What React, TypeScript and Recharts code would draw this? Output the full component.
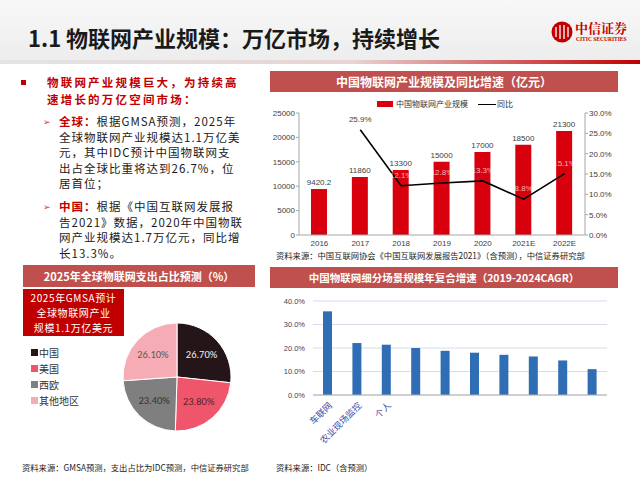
import React from 'react'
import {
  ComposedChart, Bar, Line, XAxis, YAxis, LabelList,
  BarChart, CartesianGrid, PieChart, Pie, Cell,
} from 'recharts'

// 中国物联网产业规模（亿元）及同比
const years = ['2016', '2017', '2018', '2019', '2020', '2021E', '2022E']
const marketSize = [9420.2, 11860, 13300, 15000, 17000, 18500, 21300]
const yoyGrowth = [null, 25.9, 12.1, 12.8, 13.3, 8.8, 15.1]
const sizeTicks = [0, 5000, 10000, 15000, 20000, 25000]
const yoyTicks = [0, 5, 10, 15, 20, 25, 30]

// 2025年全球物联网支出占比
const regions = ['中国', '美国', '西欧', '其他地区']
const regionShare = [26.7, 23.8, 23.4, 26.1]

// 细分场景 CAGR 2019-2024（大部分标签被遮挡，无法辨认）
const segments = ['车联网', '农业现场监控', '个人', '', '', '', '', '', '', '']
const segmentCagr = [35.6, 22.1, 21.4, 20.0, 18.8, 18.0, 17.1, 16.4, 14.7, 11.0]
const cagrTicks = [0, 5, 10, 15, 20, 25, 30, 35, 40]

const RED = '#d9000d'
const BAR_HEAD = '#c0504d'
const pieColors = ['#241618', '#f0566b', '#7f7f7f', '#f6acb5']
const pieLabelColors = ['#eeeeee', '#5b1f28', '#333333', '#595959']

const font = '"Noto Sans CJK SC", "Noto Sans", sans-serif'

const sizeData = years.map((year, i) => ({ year, size: marketSize[i], yoy: yoyGrowth[i] }))
const pieData = regions.map((name, i) => ({ name, value: regionShare[i] }))
const cagrData = segments.map((name, i) => ({ name, cagr: segmentCagr[i] }))

const YoyLabel = (props: any) => {
  const { x, y, value } = props
  if (value == null) return null
  return (
    <text x={x} y={y - 8} textAnchor="middle" fontSize={8} fontFamily="Liberation Sans, Arial"
      fill={value > 20 ? '#404040' : 'rgba(255,255,255,0.7)'}>
      {value.toFixed(1)}%
    </text>
  )
}

const RAD = Math.PI / 180
const PieLabel = (props: any) => {
  const { cx, cy, midAngle, index, value } = props
  const r = 33
  const x = cx + r * Math.cos(-midAngle * RAD)
  const y = cy + r * Math.sin(-midAngle * RAD)
  return (
    <text x={x} y={y} textAnchor="middle" dominantBaseline="central" fontSize={10.5}
      fontFamily="Carlito, Liberation Sans, Arial" fill={pieLabelColors[index]}>
      {value.toFixed(2)}%
    </text>
  )
}

const SlantTick = (props: any) => {
  const { x, y, payload } = props
  return (
    <text x={x + 5} y={y + 9} transform={`rotate(-45, ${x + 5}, ${y + 9})`} textAnchor="end"
      fontSize={9} fontFamily={font} fill="#3d4aa8">
      {payload.value}
    </text>
  )
}

const abs = (left: number, top: number, extra: React.CSSProperties = {}): React.CSSProperties => ({
  position: 'absolute', left, top, ...extra,
})

const HeadBar = ({ left, top, width, height, text, size }: any) => (
  <div style={abs(left, top, {
    width, height, background: BAR_HEAD, color: '#fff', fontWeight: 700, fontSize: size,
    lineHeight: `${height}px`, textAlign: 'center', whiteSpace: 'nowrap',
  })}>{text}</div>
)

const Lines = ({ left, top, lh, size, ls = 0, lines, color = '#1a1a1a', bold = false }: any) => (
  <div style={abs(left, top, { fontSize: size, lineHeight: `${lh}px`, letterSpacing: ls, color, fontWeight: bold ? 700 : 400, whiteSpace: 'nowrap' })}>
    {lines.map((l: any, i: number) => <div key={i}>{l}</div>)}
  </div>
)

export default function App() {
  const hl = (t: string) => <span style={{ color: '#c00000', fontWeight: 700 }}>{t}</span>
  return (
    <div style={{ position: 'absolute', left: 0, top: 0, width: 640, height: 480, background: '#fff', overflow: 'hidden', fontFamily: font }}>
      {/* header */}
      <div style={abs(0, 0, { width: 640, height: 60, background: 'linear-gradient(#f8f8f8, #ededed)' })} />
      <div style={abs(0, 60, { width: 640, height: 4, background: 'linear-gradient(to right, #e4e4e4, #e8d4d4 55%, #c00000)' })} />
      <div style={abs(28, 22, { fontSize: 22, fontWeight: 700, color: '#1a1a1a', lineHeight: '30px', whiteSpace: 'nowrap' })}>
        1.1 物联网产业规模：万亿市场，持续增长
      </div>
      <svg style={abs(551, 21)} width={22} height={22}>
        <circle cx={11} cy={11} r={10.5} fill="#c00000" />
        <path d="M5 6 v10 M9 4 v14 M13 4 v14 M17 6 v10" stroke="#fff" strokeWidth={1.3} />
      </svg>
      <div style={abs(575, 20, { fontSize: 13, fontWeight: 700, color: '#c00000', fontFamily: '"Noto Serif CJK SC", serif', lineHeight: '16px', whiteSpace: 'nowrap' })}>中信证券</div>
      <div style={abs(576, 36, { fontSize: 5.5, fontWeight: 700, color: '#c00000', fontFamily: 'Liberation Serif, serif', whiteSpace: 'nowrap' })}>CITIC SECURITIES</div>

      {/* left text */}
      <div style={abs(21, 80, { width: 5, height: 5, background: '#c00000' })} />
      <Lines left={47} top={74} lh={17} size={11.5} ls={2.2} bold color="#c00000"
        lines={['物联网产业规模巨大，为持续高', '速增长的万亿空间市场：']} />
      <div style={abs(43, 115, { fontSize: 9, color: '#c83c3c' })}>➢</div>
      <Lines left={59} top={114} lh={15.5} size={11.5} ls={1}
        lines={[<>{hl('全球：')}根据GMSA预测，2025年</>, '全球物联网产业规模达1.1万亿美', '元，其中IDC预计中国物联网支', '出占全球比重将达到26.7%，位', '居首位；']} />
      <div style={abs(43, 200, { fontSize: 9, color: '#c83c3c' })}>➢</div>
      <Lines left={59} top={199} lh={15.5} size={11.5} ls={1}
        lines={[<>{hl('中国：')}根据《中国互联网发展报</>, '告2021》数据，2020年中国物联', '网产业规模达1.7万亿元，同比增', '长13.3%。']} />

      {/* top right: market size */}
      <HeadBar left={270} top={71} width={348} height={21} size={12} text="中国物联网产业规模及同比增速（亿元）" />
      <div style={abs(377, 101, { width: 16, height: 6, background: RED })} />
      <div style={abs(396, 98, { fontSize: 8, color: '#333', lineHeight: '12px', whiteSpace: 'nowrap' })}>中国物联网产业规模</div>
      <div style={abs(478, 103.5, { width: 18, height: 1.5, background: '#000' })} />
      <div style={abs(497, 98, { fontSize: 8, color: '#333', lineHeight: '12px' })}>同比</div>
      <div style={abs(255, 96)}>
        <ComposedChart width={385} height={159} data={sizeData} margin={{ top: 17, right: 15, left: 0, bottom: 0 }}>
          <XAxis dataKey="year" height={20} tickLine={false} tickSize={0} tickMargin={5}
            axisLine={{ stroke: '#a6a6a6' }} tick={{ fontSize: 8, fill: '#404040', fontFamily: 'Liberation Sans, Arial' }} />
          <YAxis yAxisId="left" width={44} domain={[0, 25000]} ticks={sizeTicks} tickSize={3} tickMargin={1}
            axisLine={{ stroke: '#a6a6a6' }} tickLine={{ stroke: '#a6a6a6' }}
            tick={{ fontSize: 8, fill: '#404040', fontFamily: 'Liberation Sans, Arial' }} />
          <YAxis yAxisId="right" orientation="right" width={40} domain={[0, 30]} ticks={yoyTicks} tickSize={3} tickMargin={1}
            axisLine={{ stroke: '#a6a6a6' }} tickLine={{ stroke: '#a6a6a6' }}
            tickFormatter={(v: number) => `${v.toFixed(1)}%`}
            tick={{ fontSize: 8, fill: '#404040', fontFamily: 'Liberation Sans, Arial' }} />
          <Bar yAxisId="left" dataKey="size" fill={RED} barSize={16} isAnimationActive={false}>
            <LabelList dataKey="size" position="top" offset={4} fontSize={8} fill="#404040" fontFamily="Liberation Sans, Arial" />
          </Bar>
          <Line yAxisId="right" dataKey="yoy" type="linear" stroke="#000" strokeWidth={1.6} dot={false} isAnimationActive={false}>
            <LabelList dataKey="yoy" content={YoyLabel} />
          </Line>
        </ComposedChart>
      </div>
      <div style={abs(276, 250, { fontSize: 8.3, color: '#222', lineHeight: '11px', whiteSpace: 'nowrap' })}>
        资料来源：中国互联网协会《中国互联网发展报告2021》（含预测），中信证券研究部
      </div>

      {/* bottom left: pie */}
      <HeadBar left={23} top={265} width={232} height={22} size={11} text="2025年全球物联网支出占比预测（%）" />
      <div style={abs(23, 289, { width: 101, height: 47, background: '#c00000' })} />
      <div style={abs(23, 290, { width: 101, fontSize: 10, letterSpacing: 0.6, color: '#fff', lineHeight: '15px', textAlign: 'center', whiteSpace: 'nowrap' })}>
        <div>2025年GMSA预计</div><div>全球物联网产业</div><div>规模1.1万亿美元</div>
      </div>
      {regions.map((r, i) => (
        <React.Fragment key={r}>
          <div style={abs(31, 349 + i * 16, { width: 7, height: 7, background: pieColors[i] })} />
          <div style={abs(39, 345 + i * 16, { fontSize: 10, color: '#333', lineHeight: '15px', whiteSpace: 'nowrap' })}>{r}</div>
        </React.Fragment>
      ))}
      <div style={abs(120, 320)}>
        <PieChart width={114} height={114} margin={{ top: 0, right: 0, bottom: 0, left: 0 }}>
          <Pie data={pieData} dataKey="value" nameKey="name" cx="50%" cy="50%" outerRadius={54}
            startAngle={90} endAngle={-270} stroke="#fff" strokeWidth={1} labelLine={false}
            label={PieLabel} isAnimationActive={false}>
            {pieData.map((d, i) => <Cell key={d.name} fill={pieColors[i]} />)}
          </Pie>
        </PieChart>
      </div>
      <div style={abs(22, 462, { fontSize: 8.3, color: '#222', lineHeight: '11px', whiteSpace: 'nowrap' })}>
        资料来源：GMSA预测，支出占比为IDC预测，中信证券研究部
      </div>

      {/* bottom right: CAGR */}
      <HeadBar left={270} top={267} width={348} height={21} size={10.5} text="中国物联网细分场景规模年复合增速（2019-2024CAGR）" />
      <div style={abs(255, 290)}>
        <BarChart width={370} height={155} data={cagrData} margin={{ top: 11, right: 18, left: 0, bottom: 0 }}>
          <CartesianGrid vertical={false} stroke="#d8dbec" />
          <XAxis dataKey="name" height={50} interval={0} tickLine={false} tickSize={0} axisLine={{ stroke: '#b0b0b0' }} tick={SlantTick} />
          <YAxis width={58} domain={[0, 40]} ticks={cagrTicks} axisLine={false} tickLine={false} tickSize={6} tickMargin={2}
            tickFormatter={(v: number) => `${v.toFixed(1)}%`}
            tick={{ fontSize: 7.5, fill: '#404060', fontFamily: 'Liberation Sans, Arial' }} />
          <Bar dataKey="cagr" fill="#2f6db5" barSize={9} isAnimationActive={false} />
        </BarChart>
      </div>
      <div style={abs(276, 462, { fontSize: 8.3, color: '#222', lineHeight: '11px', whiteSpace: 'nowrap' })}>
        资料来源：IDC（含预测）
      </div>
    </div>
  )
}
